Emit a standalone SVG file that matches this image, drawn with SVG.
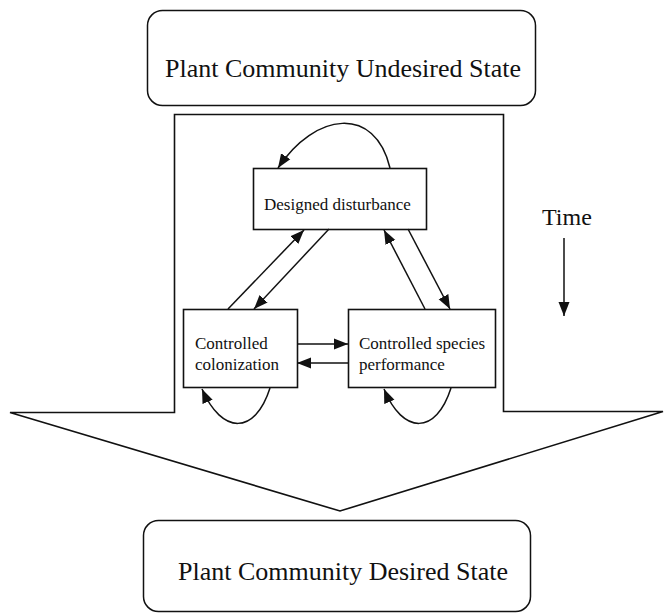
<svg xmlns="http://www.w3.org/2000/svg" width="664" height="614" viewBox="0 0 664 614">
<style>
.box{fill:#fff;stroke:#111;stroke-width:1.6}
.rbox{fill:#fff;stroke:#111;stroke-width:1.5}
.ln{fill:none;stroke:#111;stroke-width:1.5}
.t{font-family:"Liberation Serif","Times New Roman",serif;fill:#111}
.big{font-size:26px}
.sm{font-size:17px}
</style>
<defs>
<marker id="ah" markerUnits="userSpaceOnUse" markerWidth="15" markerHeight="12" refX="14" refY="6" orient="auto">
<path d="M0,0.5 L14,6 L0,11.5 z" fill="#111"/>
</marker>
</defs>
<rect width="664" height="614" fill="#fff"/>
<g id="undesired">
<rect class="rbox" x="147.5" y="10.5" width="388" height="95" rx="15"/>
<text class="t big" x="165" y="77">Plant Community Undesired State</text>
</g>
<g id="bigarrow">
<polygon class="box" points="174.5,114.5 503.5,114.5 503.5,411.5 663,411.5 340,511 10,412.5 174.5,412.5"/>
</g>
<g id="desired">
<rect class="rbox" x="143.5" y="520.5" width="387" height="91" rx="15"/>
<text class="t big" x="178" y="580">Plant Community Desired State</text>
</g>
<g id="disturbance">
<rect class="box" x="253.5" y="168.5" width="173" height="61"/>
<text class="t sm" x="264" y="210">Designed disturbance</text>
</g>
<g id="colonization">
<rect class="box" x="183.5" y="309.5" width="114" height="78"/>
<text class="t sm" x="195" y="349">Controlled</text>
<text class="t sm" x="195" y="370">colonization</text>
</g>
<g id="performance">
<rect class="box" x="348.5" y="309.5" width="147" height="78"/>
<text class="t sm" x="359" y="349">Controlled species</text>
<text class="t sm" x="359" y="370">performance</text>
</g>
<g id="time">
<text class="t" style="font-size:24px" x="542" y="225">Time</text>
</g>
<g id="connectors">
<path class="ln" d="M390,168 C375,105 315,112 278,168" marker-end="url(#ah)"/>
<path class="ln" d="M270,388 C255,435 222,435 202,389" marker-end="url(#ah)"/>
<path class="ln" d="M451,388 C436,435 403,435 384,389" marker-end="url(#ah)"/>
<path class="ln" d="M228,309 L304,230" marker-end="url(#ah)"/>
<path class="ln" d="M329,229 L254,309" marker-end="url(#ah)"/>
<path class="ln" d="M425,309 L384,230" marker-end="url(#ah)"/>
<path class="ln" d="M408,229 L450,309" marker-end="url(#ah)"/>
<path class="ln" d="M297,344 L348,344" marker-end="url(#ah)"/>
<path class="ln" d="M348,363 L297,363" marker-end="url(#ah)"/>
<path class="ln" d="M564,238 L564,316" marker-end="url(#ah)"/>
</g>
</svg>
